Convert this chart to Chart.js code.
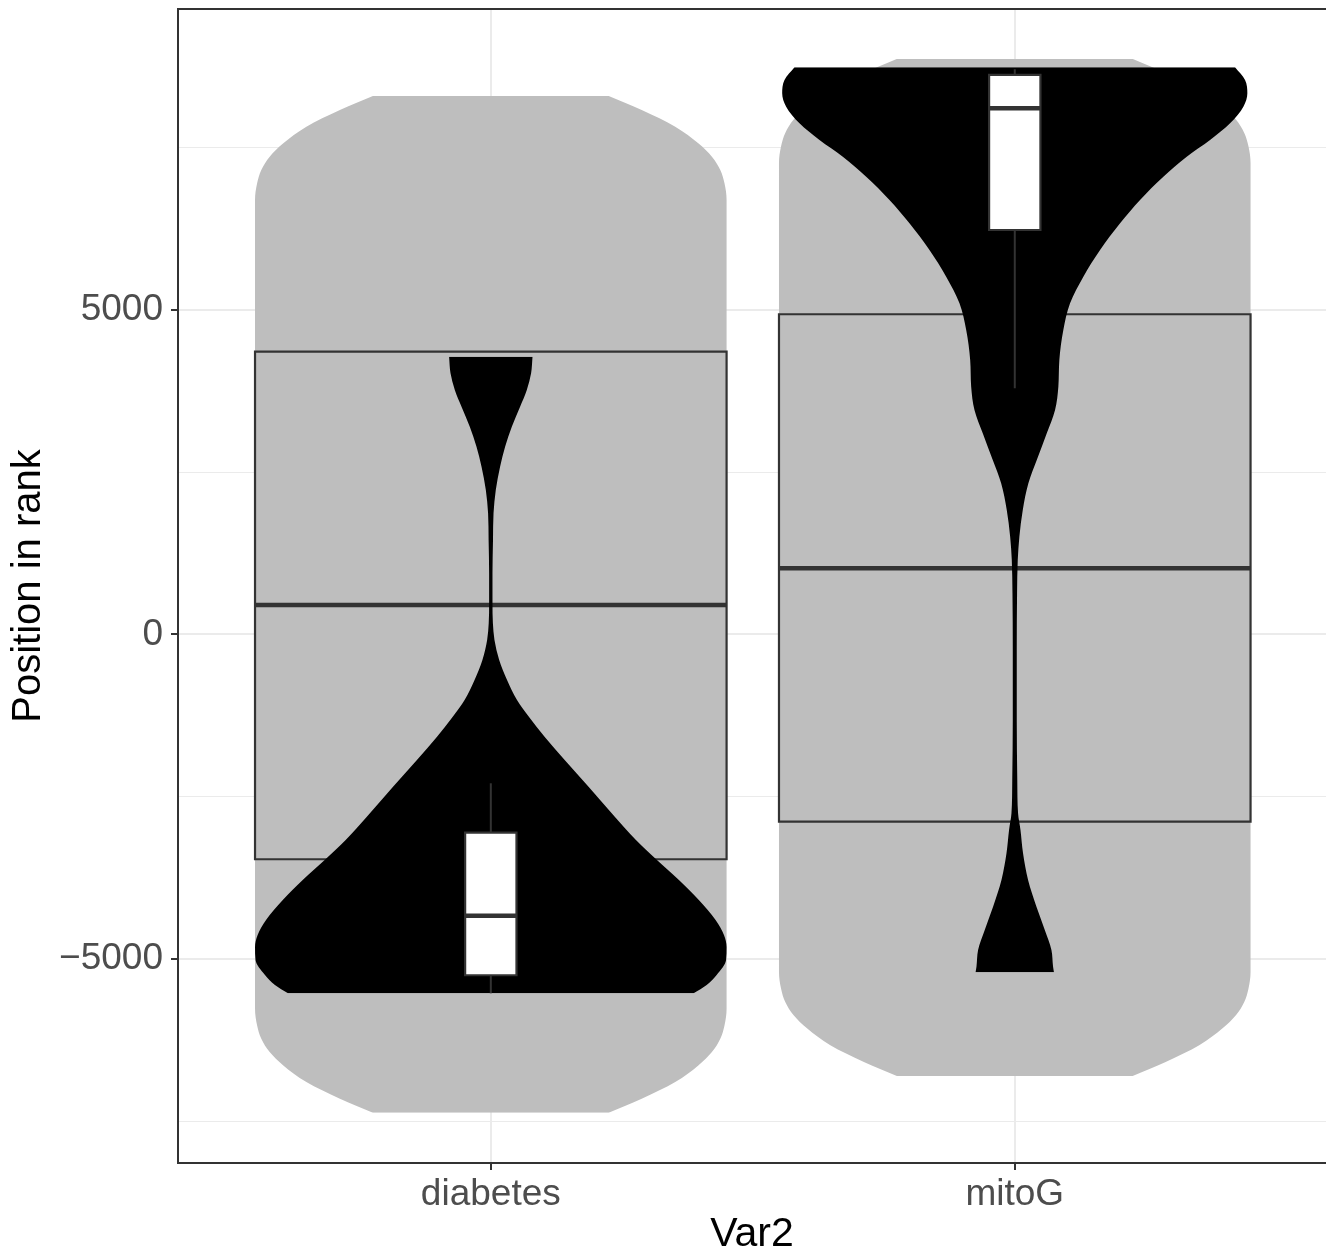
<!DOCTYPE html>
<html>
<head>
<meta charset="utf-8">
<script src="https://cdn.jsdelivr.net/npm/chart.js@4.4.1/dist/chart.umd.min.js"></script>
<style>
  html, body { margin: 0; padding: 0; background: #fff; }
  #wrap { width: 1326px; height: 1255px; }
</style>
</head>
<body>
<div id="wrap"><canvas id="chart" width="1326" height="1255"></canvas></div>
<script>
// categories on the x axis (positions 1, 2)
var categories = ['diabetes', 'mitoG'];

// y axis: labelled ticks and minor grid lines
var yTickValues = [-5000, 0, 5000];
var yTickLabels = ['\u22125000', '0', '5000'];
var yMinorValues = [-7500, -2500, 2500, 7500];

// wide grey violins: rank position and half width (category units)
var greyDiabetesY = [-7369, -7153, -6896, -6640, -6434, -6229, -6024, -5767, -5562, 0,
                     6486, 6691, 6948, 7153, 7358, 7564, 7820, 8077, 8293];
var greyDiabetesW = [0.225, 0.288, 0.352, 0.396, 0.422, 0.438, 0.446, 0.45, 0.45, 0.45,
                     0.45, 0.45, 0.446, 0.438, 0.422, 0.396, 0.352, 0.288, 0.225];
var greyMitoY = [-6802, -6586, -6329, -6073, -5867, -5662, -5457, -5200, -4995, 0,
                 7057, 7262, 7519, 7724, 7929, 8135, 8391, 8648, 8864];
var greyMitoW = [0.225, 0.288, 0.352, 0.396, 0.422, 0.438, 0.446, 0.45, 0.45, 0.45,
                 0.45, 0.45, 0.446, 0.438, 0.422, 0.396, 0.352, 0.288, 0.225];

// black violins
var blackDiabetesY = [-5529, -5401, -5247, -5016, -4815, -4630, -4399, -4091, -3783, -3460,
                      -3167, -2813, -2351, -1935, -1580, -1272, -1011, -702, -394, -86,
                      171, 484, 941, 1454, 1865, 2224, 2583, 2891, 3199, 3507, 3765, 4022, 4278];
var blackDiabetesW = [0.387, 0.412, 0.431, 0.449, 0.45, 0.445, 0.429, 0.397, 0.359, 0.315,
                      0.277, 0.237, 0.187, 0.141, 0.103, 0.073, 0.05, 0.031, 0.016, 0.007,
                      0.004, 0.0032, 0.0032, 0.0042, 0.0052, 0.0095, 0.0177, 0.0273, 0.0401,
                      0.0559, 0.0687, 0.0769, 0.0796];
var blackMitoY = [-5205, -5119, -4861, -4553, -4195, -3783, -3372, -3013, -2756, -2243,
                  -1319, -240, 638, 1146, 1505, 1916, 2328, 2686, 3098, 3457, 3816, 4227,
                  4689, 5100, 5510, 5921, 6333, 6692, 7050, 7358, 7616, 7873, 8129, 8335, 8540, 8736];
var blackMitoW = [0.0748, 0.0731, 0.07, 0.0573, 0.0414, 0.0254, 0.0158, 0.0109, 0.0063, 0.0048,
                  0.0038, 0.0038, 0.0044, 0.0057, 0.0088, 0.0153, 0.026, 0.042, 0.0611, 0.0769,
                  0.0832, 0.0851, 0.0927, 0.1055, 0.1309, 0.1628, 0.201, 0.2391, 0.2836, 0.3282,
                  0.3727, 0.4109, 0.4363, 0.4439, 0.4395, 0.4204];

// grey boxplots: q1, median, q3
var greyBoxDiabetes = [-3464, 453, 4355];
var greyBoxMito = [-2885, 1018, 4931];

// white boxplots: lower whisker, q1, median, q3, upper whisker
var whiteBoxDiabetes = [-5529, -5251, -4333, -3055, -2294];
var whiteBoxMito = [3791, 6229, 8104, 8617, 8705];

var LINE = '#333333';
var datasets = [];
// first pushed = drawn first (bottom)
function add(ds) {
  ds.order = 1000 - datasets.length;
  ds.pointRadius = 0;
  datasets.push(ds);
}

function violin(center, ys, ws, colour) {
  var right = ys.map(function (y, i) { return {x: center + ws[i], y: y}; });
  var left = ys.map(function (y, i) { return {x: center - ws[i], y: y}; });
  add({data: right, backgroundColor: colour, borderWidth: 0, fill: '+1', cubicInterpolationMode: 'monotone'});
  add({data: left, borderWidth: 0, fill: false, cubicInterpolationMode: 'monotone'});
}

function box(center, half, q1, med, q3, colour) {
  add({data: [{x: center + half, y: q1}, {x: center + half, y: q3}], backgroundColor: colour, borderWidth: 0, fill: '+1'});
  add({data: [{x: center - half, y: q1}, {x: center - half, y: q3}], borderWidth: 0, fill: false});
  add({data: [
        {x: center - half, y: q1}, {x: center + half, y: q1},
        {x: center + half, y: q3}, {x: center - half, y: q3},
        {x: center - half, y: q1}, {x: center + half, y: q1}
      ], borderColor: LINE, borderWidth: 2.2, fill: false});
  add({data: [{x: center - half, y: med}, {x: center + half, y: med}], borderColor: LINE, borderWidth: 4.5, fill: false});
}

function whisker(center, from, to) {
  add({data: [{x: center, y: from}, {x: center, y: to}], borderColor: LINE, borderWidth: 2, fill: false});
}

// layer 1: grey violins
violin(1, greyDiabetesY, greyDiabetesW, '#BEBEBE');
violin(2, greyMitoY, greyMitoW, '#BEBEBE');
// layer 2: grey boxplots
box(1, 0.45, greyBoxDiabetes[0], greyBoxDiabetes[1], greyBoxDiabetes[2], '#BEBEBE');
box(2, 0.45, greyBoxMito[0], greyBoxMito[1], greyBoxMito[2], '#BEBEBE');
// layer 3: black violins
violin(1, blackDiabetesY, blackDiabetesW, '#000000');
violin(2, blackMitoY, blackMitoW, '#000000');
// layer 4: white boxplots
whisker(1, whiteBoxDiabetes[0], whiteBoxDiabetes[1]);
whisker(1, whiteBoxDiabetes[3], whiteBoxDiabetes[4]);
whisker(2, whiteBoxMito[0], whiteBoxMito[1]);
whisker(2, whiteBoxMito[3], whiteBoxMito[4]);
box(1, 0.049, whiteBoxDiabetes[1], whiteBoxDiabetes[2], whiteBoxDiabetes[3], '#FFFFFF');
box(2, 0.049, whiteBoxMito[1], whiteBoxMito[2], whiteBoxMito[3], '#FFFFFF');

// top / left / bottom panel border (right side runs off the picture)
var panelBorder = {
  id: 'panelBorder',
  afterDatasetsDraw: function (chart) {
    var a = chart.chartArea, ctx = chart.ctx;
    ctx.save();
    ctx.strokeStyle = LINE;
    ctx.lineWidth = 2;
    ctx.beginPath();
    ctx.moveTo(chart.width, a.top);
    ctx.lineTo(a.left, a.top);
    ctx.lineTo(a.left, a.bottom);
    ctx.lineTo(chart.width, a.bottom);
    ctx.stroke();
    ctx.restore();
  }
};

var allY = yMinorValues.concat(yTickValues).sort(function (a, b) { return a - b; });

new Chart(document.getElementById('chart'), {
  type: 'line',
  data: {datasets: datasets},
  options: {
    indexAxis: 'y',
    responsive: false,
    animation: false,
    events: [],
    devicePixelRatio: 1,
    layout: {padding: {top: 9, right: 0, bottom: 0, left: 0}},
    elements: {
      point: {radius: 0},
      line: {tension: 0, borderCapStyle: 'butt', borderJoinStyle: 'miter'}
    },
    plugins: {legend: {display: false}, tooltip: {enabled: false}},
    scales: {
      x: {
        type: 'linear',
        min: 0.403,
        max: 2.594,
        afterBuildTicks: function (s) {
          s.ticks = categories.map(function (c, i) { return {value: i + 1}; });
        },
        afterFit: function (s) { s.height = 92; s.paddingLeft = 0; s.paddingRight = 0; },
        border: {display: false},
        grid: {color: '#EBEBEB', lineWidth: 2, tickLength: 7, tickColor: LINE, tickWidth: 2},
        ticks: {
          autoSkip: false, maxRotation: 0, padding: 3, color: '#4D4D4D',
          font: {family: 'Liberation Sans', size: 37},
          callback: function (v) { return categories[Math.round(v) - 1]; }
        },
        title: {
          display: true, text: 'Var2', color: '#000000',
          font: {family: 'Liberation Sans', size: 41, lineHeight: 1},
          padding: {top: 0, bottom: 0}
        }
      },
      y: {
        type: 'linear',
        min: -8143,
        max: 9633,
        afterBuildTicks: function (s) {
          s.ticks = allY.map(function (v) { return {value: v}; });
        },
        afterFit: function (s) { s.width = 178; s.paddingTop = 0; s.paddingBottom = 0; },
        border: {display: false},
        grid: {
          color: '#EBEBEB',
          lineWidth: function (c) { return c.tick && yTickValues.indexOf(c.tick.value) >= 0 ? 2 : 1; },
          tickLength: 7,
          tickWidth: 2,
          tickColor: function (c) { return c.tick && yTickValues.indexOf(c.tick.value) >= 0 ? LINE : 'rgba(0,0,0,0)'; }
        },
        ticks: {
          autoSkip: false, padding: 8, color: '#4D4D4D',
          font: {family: 'Liberation Sans', size: 37},
          callback: function (v) {
            var k = yTickValues.indexOf(v);
            return k >= 0 ? yTickLabels[k] : '';
          }
        },
        title: {
          display: true, text: 'Position in rank', color: '#000000',
          font: {family: 'Liberation Sans', size: 40, lineHeight: 1},
          padding: {top: 9, bottom: 0}
        }
      }
    }
  },
  plugins: [panelBorder]
});
</script>
</body>
</html>
